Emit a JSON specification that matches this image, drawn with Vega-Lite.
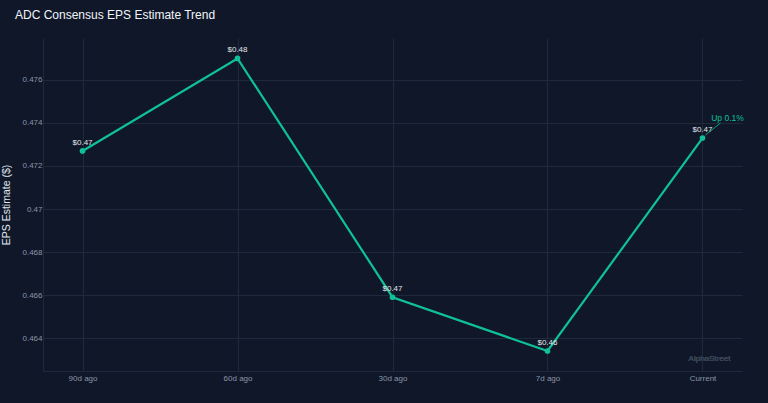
{
  "$schema": "https://vega.github.io/schema/vega-lite/v6.json",
  "width": 699,
  "height": 333,
  "autosize": {"type": "none"},
  "padding": {"left": 43, "top": 38, "right": 26, "bottom": 32},
  "background": "#0f1729",
  "view": {"stroke": null},
  "config": {
    "font": "Liberation Sans",
    "axis": {
      "gridColor": "#1e293b",
      "domainColor": "#1e293b",
      "ticks": false,
      "labelColor": "#8b95a7",
      "labelFontSize": 8,
      "titleColor": "#e2e8f0",
      "titleFontWeight": "normal"
    }
  },
  "title": {
    "text": "ADC Consensus EPS Estimate Trend",
    "anchor": "start",
    "frame": "group",
    "dx": -28,
    "offset": 16,
    "fontSize": 12,
    "fontWeight": "normal",
    "color": "#f1f5f9"
  },
  "data": {
    "values": [
      {"period": "90d ago", "eps": 0.4727, "label": "$0.47", "note": ""},
      {"period": "60d ago", "eps": 0.4770, "label": "$0.48", "note": ""},
      {"period": "30d ago", "eps": 0.4659, "label": "$0.47", "note": ""},
      {"period": "7d ago", "eps": 0.4634, "label": "$0.46", "note": ""},
      {"period": "Current", "eps": 0.4733, "label": "$0.47", "note": "Up 0.1%"}
    ]
  },
  "encoding": {
    "x": {
      "field": "period",
      "type": "ordinal",
      "sort": null,
      "scale": {"type": "point", "padding": 0.255},
      "axis": {"title": null, "labelAngle": 0, "labelPadding": 3, "grid": true, "domain": true}
    },
    "y": {
      "field": "eps",
      "type": "quantitative",
      "scale": {"domain": [0.46247, 0.47795], "zero": false, "nice": false},
      "axis": {
        "title": "EPS Estimate ($)",
        "titleFontSize": 10.5,
        "titlePadding": 10,
        "values": [0.464, 0.466, 0.468, 0.47, 0.472, 0.474, 0.476],
        "format": "~g",
        "labelPadding": 1,
        "grid": true,
        "domain": true
      }
    }
  },
  "layer": [
    {
      "mark": {"type": "line", "color": "#10c196", "strokeWidth": 2.2}
    },
    {
      "mark": {"type": "circle", "color": "#10c196", "size": 32, "opacity": 1}
    },
    {
      "mark": {"type": "text", "dy": -8, "fontSize": 8, "color": "#e5e7eb"},
      "encoding": {"text": {"field": "label"}}
    },
    {
      "transform": [{"filter": "datum.note != ''"}],
      "mark": {"type": "rule", "color": "#10c196", "strokeWidth": 0.8, "xOffset": 3, "x2Offset": 18, "yOffset": -3, "y2Offset": -15},
      "encoding": {
        "x2": {"field": "period"},
        "y2": {"field": "eps"}
      }
    },
    {
      "transform": [{"filter": "datum.note != ''"}],
      "mark": {"type": "text", "dx": 25, "dy": -20, "fontSize": 8.5, "color": "#10c196"},
      "encoding": {"text": {"field": "note"}}
    },
    {
      "mark": {"type": "text", "fontSize": 8, "color": "#364152", "dx": 7},
      "encoding": {
        "x": {"datum": "Current", "type": "ordinal"},
        "y": {"datum": 0.46302, "type": "quantitative"},
        "text": {"value": "AlphaStreet"}
      }
    }
  ]
}
